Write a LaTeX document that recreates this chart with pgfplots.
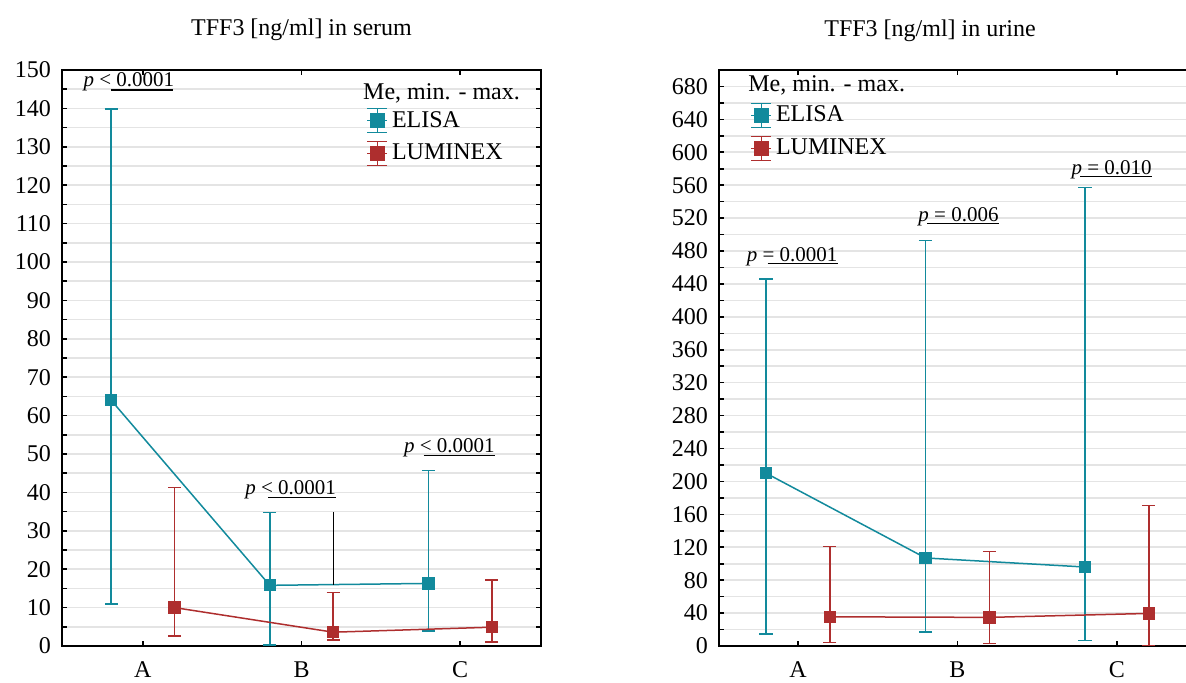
\documentclass[border=0pt]{standalone}
\usepackage{pgfplots}
\pgfplotsset{compat=1.18}
\usepackage{pgfplotstable}
\usepackage{fontspec}
\setmainfont{Liberation Serif}

\definecolor{elisa}{RGB}{18,138,156}
\definecolor{lumi}{RGB}{174,46,46}
\definecolor{gridc}{RGB}{228,228,228}

% serum: position, median, min, max
\pgfplotstableread{
x    me    lo    hi
-0.2 64.0  10.9  139.8
0.8  15.8  0.3   34.8
1.8  16.3  3.9   45.7
}\serumE
\pgfplotstableread{
x    me    lo    hi
0.2  10.0  2.6   41.3
1.2  3.6   1.6   14.0
2.2  4.9   1.1   17.2
}\serumL
% urine
\pgfplotstableread{
x    me    lo    hi
-0.2 210   14.5  446
0.8  107   17    493
1.8  96    7     557
}\urineE
\pgfplotstableread{
x    me    lo    hi
0.2  35.5  4.5   121
1.2  34.8  3.3   115
2.2  39.6  0.5   171
}\urineL

\newcommand\fs[1]{\fontsize{#1}{#1}\selectfont}

\pgfplotsset{
  panel/.style={
    scale only axis, height=288pt,
    xtick={0,1,2}, xticklabels={A,B,C},
    ymin=0, minor y tick num=1,
    ymajorgrids, yminorgrids,
    grid style={gridc, line width=0.8pt},
    minor grid style={gridc, line width=0.8pt},
    axis line style={line width=0.8pt},
    tick align=inside, major tick length=2.5pt, minor tick length=2.5pt,
    tick style={black, line width=0.8pt},
    /pgf/number format/assume math mode=true,
    tick label style={font=\fs{12}},
    xticklabel style={yshift=-4.5pt},
    yticklabel style={xshift=-2pt},
    legend style={draw=none, fill=none, font=\fs{12}, anchor=north west,
      row sep=3pt, inner sep=0pt},
    legend cell align=left,
    clip=false,
  },
  ser/.style={line width=0.75pt, mark=square*, mark size=2.7pt,
    mark options={fill=#1, draw=#1}, color=#1, forget plot,
    error bars/.cd, y dir=both, y explicit,
    error bar style={#1, line width=0.75pt},
    error mark options={rotate=90, mark size=3.3pt, line width=0.75pt, #1}},
  pline/.style={black, line width=0.6pt, forget plot, no marks},
  /pgfplots/table/mm/.style={x=x, y=me,
    y error plus expr=\thisrow{hi}-\thisrow{me},
    y error minus expr=\thisrow{me}-\thisrow{lo}},
}
\newcommand\legicon[1]{%
  \addlegendimage{legend image code/.code={
    \draw[#1, line width=0.75pt] (5pt,-6pt) -- (5pt,6pt)
      (0pt,-6pt) -- (10pt,-6pt) (0pt,6pt) -- (10pt,6pt) (0pt,0pt) -- (10pt,0pt);
    \fill[#1] (1.5pt,-3.5pt) rectangle (8.5pt,3.5pt);
  }}}

\begin{document}
\begin{tikzpicture}
% ---- serum ----
\begin{axis}[panel, at={(0pt,0pt)}, anchor=south west, width=239.5pt,
  xmin=-0.51, xmax=2.51, ymax=150, ytick={0,10,...,150},
  legend style={at={(rel axis cs:0.635,0.936)}}]
  \addplot[ser=elisa] table[mm] {\serumE};
  \addplot[ser=lumi] table[mm] {\serumL};
  \addplot[pline] coordinates {(1.2,16.0) (1.2,34.8)};
  \legicon{elisa}\addlegendentry{ELISA}
  \legicon{lumi}\addlegendentry{LUMINEX}
  \node[anchor=base west, font=\fs{12}, inner sep=0pt] at (rel axis cs:0.628,0.948) {Me, min. - max.};
  \node[anchor=base, font=\fs{12}, inner sep=0pt] at (rel axis cs:0.5,1) [yshift=17.5pt] {TFF3 [ng/ml] in serum};
  % p values
  \addplot[pline] coordinates {(-0.2,144.8) (0.19,144.8)};
  \node[anchor=base east, inner sep=0pt, font=\fs{10.5}] at (axis cs:0.2,145.6) {\textit{p} < 0.0001};
  \addplot[pline] coordinates {(0.79,38.7) (1.22,38.7)};
  \node[anchor=base east, inner sep=0pt, font=\fs{10.5}] at (axis cs:1.22,39.5) {\textit{p} < 0.0001};
  \addplot[pline] coordinates {(1.77,49.7) (2.22,49.7)};
  \node[anchor=base east, inner sep=0pt, font=\fs{10.5}] at (axis cs:2.22,50.5) {\textit{p} < 0.0001};
\end{axis}
% ---- urine (its right edge lies past the picture, as in the original) ----
\begin{axis}[panel, at={(328.5pt,0pt)}, anchor=south west, width=255.2pt,
  xmin=-0.495, xmax=2.705, ymax=700, ytick={0,40,...,680},
  legend style={at={(rel axis cs:0.061,0.945)}}]
  \addplot[ser=elisa] table[mm] {\urineE};
  \addplot[ser=lumi] table[mm] {\urineL};
  \legicon{elisa}\addlegendentry{ELISA}
  \legicon{lumi}\addlegendentry{LUMINEX}
  \node[anchor=base west, font=\fs{12}, inner sep=0pt] at (rel axis cs:0.0568,0.962) {Me, min. - max.};
  \node[anchor=base, font=\fs{12}, inner sep=0pt] at (rel axis cs:0.4134,1) [yshift=17pt] {TFF3 [ng/ml] in urine};
  % p values
  \addplot[pline] coordinates {(-0.19,465) (0.25,465)};
  \node[anchor=base east, inner sep=0pt, font=\fs{10.5}] at (axis cs:0.25,467) {\textit{p} = 0.0001};
  \addplot[pline] coordinates {(0.81,513.5) (1.26,513.5)};
  \node[anchor=base east, inner sep=0pt, font=\fs{10.5}] at (axis cs:1.26,515.5) {\textit{p} = 0.006};
  \addplot[pline] coordinates {(1.77,571) (2.22,571)};
  \node[anchor=base east, inner sep=0pt, font=\fs{10.5}] at (axis cs:2.22,573) {\textit{p} = 0.010};
\end{axis}
\pgfresetboundingbox
\path (-31pt,-18pt) rectangle (562pt,323pt);
\end{tikzpicture}
\end{document}
